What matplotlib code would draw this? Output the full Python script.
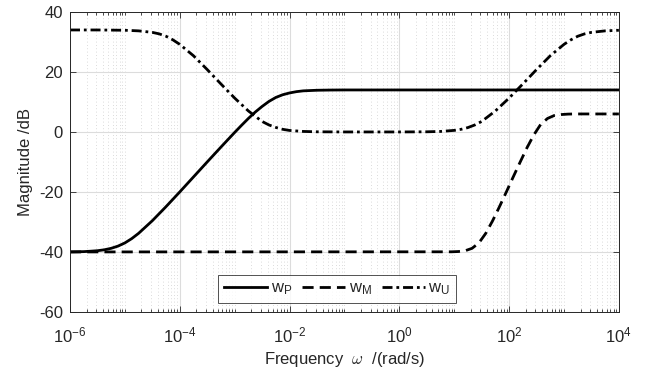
import matplotlib
matplotlib.use('Agg')
import matplotlib.pyplot as plt
import numpy as np
from matplotlib.ticker import FixedLocator, LogLocator, NullFormatter

plt.rcParams['font.family'] = ['Liberation Sans', 'DejaVu Sans']
plt.rcParams['mathtext.fontset'] = 'cm'
plt.rcParams['axes.unicode_minus'] = False

# log10 of frequency (rad/s) and magnitude in dB for each weight
wp_logw = [-6.0, -5.75, -5.625, -5.5, -5.375, -5.25, -5.125, -5.0, -4.875, -4.75, -4.5,
           -4.25, -4.0, -3.75, -3.5, -3.25, -3.0, -2.875, -2.75, -2.625, -2.5, -2.375,
           -2.25, -2.125, -2.0, -1.875, -1.75, -1.5, -1.25, -1.0, 0.0, 4.0]
wp_db = [-40.0, -39.9, -39.76, -39.6, -39.29, -38.8, -38.06, -37.0, -35.56, -33.8, -29.6,
         -24.9, -20.0, -15.0, -10.0, -5.05, -0.17, 2.2, 4.5, 6.62, 8.5, 10.18,
         11.5, 12.4, 13.0, 13.43, 13.7, 13.9, 13.97, 14.0, 14.0, 14.0]

wm_logw = [-6.0, 0.95, 1.075, 1.2, 1.325, 1.45, 1.575, 1.7, 1.825, 1.95, 2.075, 2.2,
           2.325, 2.45, 2.575, 2.7, 2.825, 2.95, 3.075, 3.2, 4.0]
wm_db = [-40.0, -39.96, -39.87, -39.6, -38.8, -37.0, -33.8, -29.6, -24.9, -20.0, -15.0, -10.1,
         -5.3, -1.0, 2.5, 4.5, 5.5, 5.8, 5.95, 6.0, 6.0]

wu_logw = [-6.0, -5.5, -5.0, -4.75, -4.5, -4.375, -4.25, -4.125, -4.0, -3.75, -3.5, -3.25,
           -3.0, -2.75, -2.5, -2.375, -2.25, -2.125, -2.0, -1.75, -1.5, -1.0, 0.0, 0.5,
           0.75, 1.0, 1.125, 1.25, 1.375, 1.5, 1.75, 2.0, 2.25, 2.5, 2.75, 3.0, 3.125,
           3.25, 3.375, 3.5, 3.75, 4.0]
wu_db = [34.0, 34.0, 33.9, 33.7, 33.2, 32.7, 31.9, 30.7, 29.2, 25.4, 20.8, 16.0,
         11.3, 7.0, 3.5, 2.33, 1.5, 0.88, 0.5, 0.17, 0.05, 0.0, 0.0, 0.05,
         0.17, 0.52, 0.88, 1.46, 2.33, 3.5, 7.0, 11.3, 16.0, 20.8, 25.4, 29.2, 30.7,
         31.9, 32.7, 33.2, 33.7, 33.9]

x_ticks = [1e-6, 1e-4, 1e-2, 1e0, 1e2, 1e4]
y_ticks = [-60, -40, -20, 0, 20, 40]

txt = '#262626'
fs = 12

fig = plt.figure(figsize=(6.45, 3.74), dpi=100)
ax = fig.add_axes([0.1085, 0.166, 0.851, 0.802])

ax.plot(10 ** np.array(wp_logw), wp_db, color='black', lw=2.0, ls='-', label=r'$\mathregular{w_P}$')
ax.plot(10 ** np.array(wm_logw), wm_db, color='black', lw=2.0, ls=(0, (4.0, 2.2)),
        label=r'$\mathregular{w_M}$')
ax.plot(10 ** np.array(wu_logw), wu_db, color='black', lw=2.0, ls=(0, (3.6, 1.4, 1.0, 1.4)),
        label=r'$\mathregular{w_U}$')

ax.set_xscale('log')
ax.set_xlim(1e-6, 1e4)
ax.set_ylim(-60, 40)
ax.xaxis.set_major_locator(FixedLocator(x_ticks))
ax.xaxis.set_minor_locator(LogLocator(base=10, subs=np.arange(1, 10), numticks=30))
ax.xaxis.set_minor_formatter(NullFormatter())
ax.set_yticks(y_ticks)

ax.grid(True, which='major', color='#dcdcdc', lw=0.8, ls='-')
ax.grid(True, which='minor', axis='x', color='#cfcfcf', lw=0.6, ls=(0, (1, 3)))
ax.set_axisbelow(True)

ax.tick_params(which='both', direction='in', top=True, right=True, colors=txt, labelsize=fs)
ax.tick_params(which='major', length=4, width=0.6)
ax.tick_params(which='minor', length=2.5, width=0.6)
ax.tick_params(axis='x', which='major', pad=10)
ax.tick_params(axis='y', which='major', pad=5)
for s in ax.spines.values():
    s.set_color(txt)
    s.set_linewidth(0.7)

ax.set_xlabel(r'Frequency  $\omega$  /(rad/s)', fontsize=fs, color=txt, labelpad=3)
ax.set_ylabel('Magnitude /dB', fontsize=fs, color=txt, labelpad=4)

leg = ax.legend(loc='lower left', bbox_to_anchor=(0.27, 0.03), ncol=3, fontsize=fs,
                frameon=True, fancybox=False, handlelength=2.6, handletextpad=0.2,
                columnspacing=0.6, borderpad=0.35, borderaxespad=0)
leg.get_frame().set_edgecolor(txt)
leg.get_frame().set_linewidth(0.7)
for t in leg.get_texts():
    t.set_color(txt)

fig.savefig('out.png', dpi=100)
